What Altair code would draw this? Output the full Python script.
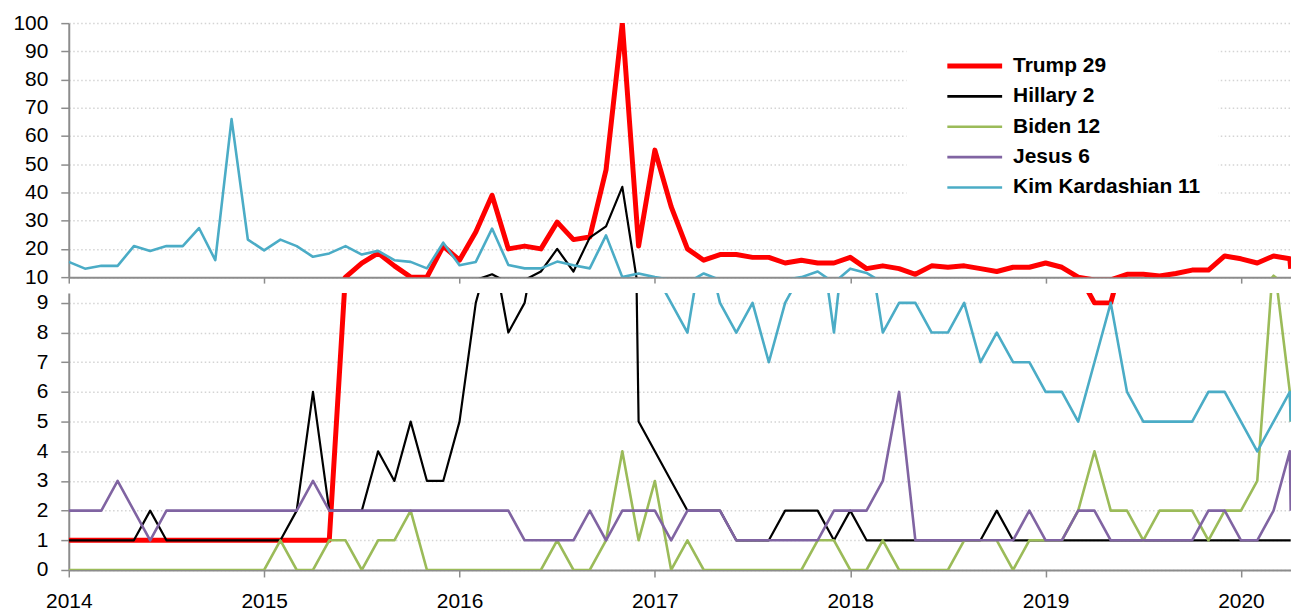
import altair as alt
import pandas as pd

series = ["Trump 29", "Hillary 2", "Biden 12", "Jesus 6", "Kim Kardashian 11"]
colors = ["#FF0000", "#000000", "#9BBB59", "#8064A2", "#4BACC6"]
widths = [5, 2.2, 2.6, 2.6, 2.6]

# monthly points Jan 2014 .. Apr 2020, plus a final partial-month point
t_vals = [y + m / 12 for y in range(2014, 2021) for m in range(12)][:76] + [2020.2545]

trump = [1, 1, 1, 1, 1, 1, 1, 1, 1, 1, 1, 1,
         1, 1, 1, 1, 1, 10, 15, 18.5, 14, 10, 10, 21,
         16, 26, 39, 20, 21, 20, 29.5, 23.3, 24.2, 48, 100, 21,
         55, 35, 20, 16, 18, 18, 17, 17, 15, 16, 15, 15,
         17, 13, 14, 13, 11, 14, 13.5, 14, 13, 12, 13.5, 13.5,
         15, 13.5, 10, 9, 9, 11, 11, 10.4, 11.3, 12.5, 12.5, 17.5,
         16.5, 15, 17.5, 16.5, 13]
hillary = [1, 1, 1, 1, 1, 2, 1, 1, 1, 1, 1, 1,
           1, 1, 2, 6, 2, 2, 2, 4, 3, 5, 3, 3,
           5, 9, 11, 8, 9, 12, 20, 12, 24, 28, 42, 5,
           4, 3, 2, 2, 2, 1, 1, 1, 2, 2, 2, 1,
           2, 1, 1, 1, 1, 1, 1, 1, 1, 2, 1, 1,
           1, 1, 1, 1, 1, 1, 1, 1, 1, 1, 1, 1,
           1, 1, 1, 1, 1]
biden = [0, 0, 0, 0, 0, 0, 0, 0, 0, 0, 0, 0,
         0, 1, 0, 0, 1, 1, 0, 1, 1, 2, 0, 0,
         0, 0, 0, 0, 0, 0, 1, 0, 0, 1, 4, 1,
         3, 0, 1, 0, 0, 0, 0, 0, 0, 0, 1, 1,
         0, 0, 1, 0, 0, 0, 0, 1, 1, 1, 0, 1,
         1, 1, 2, 4, 2, 2, 1, 2, 2, 2, 1, 2,
         2, 3, 10.5, 6, 5]
jesus = [2, 2, 2, 3, 2, 1, 2, 2, 2, 2, 2, 2,
         2, 2, 2, 3, 2, 2, 2, 2, 2, 2, 2, 2,
         2, 2, 2, 2, 1, 1, 1, 1, 2, 1, 2, 2,
         2, 1, 2, 2, 2, 1, 1, 1, 1, 1, 1, 2,
         2, 2, 3, 6, 1, 1, 1, 1, 1, 1, 1, 2,
         1, 1, 2, 2, 1, 1, 1, 1, 1, 1, 2, 2,
         1, 1, 2, 4, 2]
kim = [15.4, 13, 14, 14, 21, 19.3, 21, 21, 27.4, 16, 66, 23.3,
       19.5, 23.3, 21, 17.2, 18.4, 21, 18, 19.3, 16, 15.4, 13.1, 22.2,
       14.2, 15.4, 27.2, 14.3, 13.1, 13.1, 15.5, 14.2, 13.1, 24.8, 10, 11.3,
       10, 9, 8, 11.3, 9, 8, 9, 7, 9, 10, 12, 8,
       13, 11.5, 8, 9, 9, 8, 8, 9, 7, 8, 7, 7,
       6, 6, 5, 7, 9, 6, 5, 5, 5, 5, 6, 6,
       5, 4, 5, 6, 5]

years = [2014, 2015, 2016, 2017, 2018, 2019, 2020]
top_ticks = [10, 20, 30, 40, 50, 60, 70, 80, 90, 100]
bottom_ticks = [0, 1, 2, 3, 4, 5, 6, 7, 8, 9]

rows = []
for name, vals in zip(series, [trump, hillary, biden, jesus, kim]):
    for t, v in zip(t_vals, vals):
        rows.append({"t": t, "v": v, "s": name})
df = pd.DataFrame(rows)

FONT = "Liberation Sans"
AX = "#8C8C8C"
GRID = "#D4D4D4"
W = 1227
XMAX = 2020.256

color_scale = alt.Scale(domain=series, range=colors)

legend = alt.Legend(
    title=None, orient="none", legendX=841, legendY=14.5,
    symbolType="M-5.5,0H5.5", symbolSize=100,
    symbolStrokeWidth={"expr": "datum.value == 'Trump 29' ? 5 : 2.6"},
    labelFont=FONT, labelFontSize=21, labelFontWeight="bold", labelColor="black",
    rowPadding=8.5, symbolOffset=40, labelOffset=28, padding=18,
    fillColor="white", labelLimit=400,
)


def yaxis(vals):
    return alt.Axis(values=vals, grid=True, gridColor=GRID, gridDash=[1.5, 2.5], gridWidth=1.5,
                    labelFont=FONT, labelFontSize=21, labelColor="black", labelPadding=13,
                    tickSize=8, tickColor=AX, tickWidth=1.5, domainColor=AX, domainWidth=2,
                    labelFlush=False, title=None)


def panel(ydomain, height, yvals, xaxis, show_legend):
    layers = []
    for name, w in zip(series, widths):
        layers.append(
            alt.Chart(df).transform_filter(alt.datum.s == name)
            .mark_line(clip=True, strokeWidth=w, strokeJoin="round")
            .encode(
                x=alt.X("t:Q", scale=alt.Scale(domain=[2014, XMAX], nice=False, zero=False), axis=xaxis),
                y=alt.Y("v:Q", scale=alt.Scale(domain=ydomain, nice=False, zero=False), axis=yaxis(yvals)),
                color=alt.Color("s:N", scale=color_scale, legend=legend if show_legend else None),
            )
        )
    return alt.layer(*layers).properties(width=W, height=height)


top_x = alt.Axis(values=years, labels=False, ticks=True, tickSize=6, tickColor=AX, tickWidth=1.5,
                 domainColor=AX, domainWidth=2, grid=False, title=None)
bottom_x = alt.Axis(values=years, format="d", labelFont=FONT, labelFontSize=21, labelColor="black",
                    labelPadding=14, labelFlush=False, tickSize=7, tickColor=AX, tickWidth=1.5,
                    domainColor=AX, domainWidth=2, grid=False, title=None)

top = panel([10, 100], 255, top_ticks, top_x, True)
bottom = panel([0, 9.33], 278, bottom_ticks, bottom_x, False)

chart = alt.vconcat(top, bottom, spacing=4).resolve_legend(
    color="independent"
).properties(
    padding={"left": 4, "top": 3, "right": 0, "bottom": 2}
).configure_view(stroke=None)

chart.save("out.html", embed_options={"renderer": "svg", "actions": False})
